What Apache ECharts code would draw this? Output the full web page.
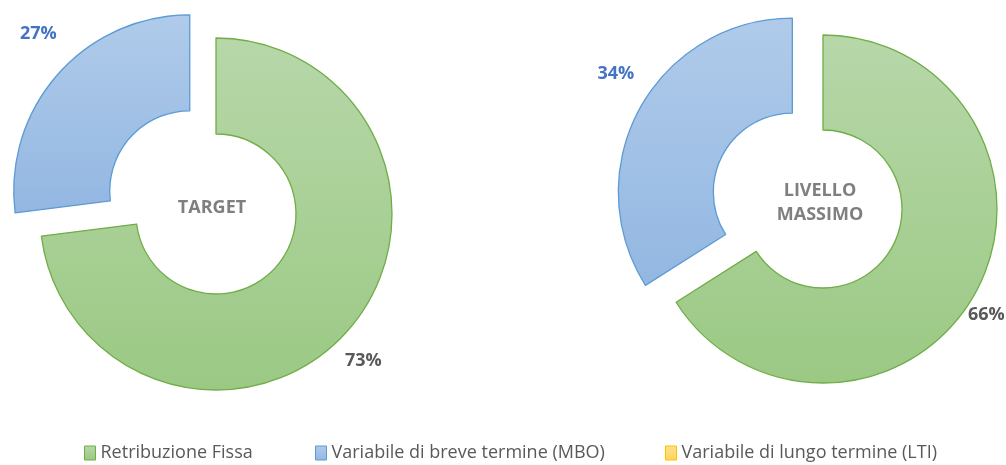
<!DOCTYPE html>
<html>
<head>
<meta charset="utf-8">
<script src="https://cdn.jsdelivr.net/npm/echarts@6/dist/echarts.min.js"></script>
<style>
  html, body { margin: 0; padding: 0; background: #fff; }
  #chart { width: 1006px; height: 465px; }
</style>
</head>
<body>
<div id="chart"></div>
<script>
var categories = ['Retribuzione Fissa', 'Variabile di breve termine (MBO)', 'Variabile di lungo termine (LTI)'];
var targetValues = [73, 27, 0];
var maxValues = [66, 34, 0];
var centerTitles = ['TARGET', 'LIVELLO\nMASSIMO'];

function grad(top, bottom) {
  return new echarts.graphic.LinearGradient(0, 0, 0, 1, [
    { offset: 0, color: top },
    { offset: 1, color: bottom }
  ]);
}

var fills = [grad('#b7d7a9', '#9bc984'), grad('#b0cbea', '#93b7e2'), grad('#ffe28a', '#ffd45c')];
var borders = ['#70ad47', '#5b9bd5', '#ffc000'];
var labelColors = ['#595959', '#4472c4', '#595959'];

// small nudges so labels sit where Excel put them [series][dataIndex]
var labelNudge = [
  [[-17, 23], [13, -33]],
  [[-23, 16], [10, -29]]
];

function buildData(values) {
  return values.map(function (v, i) {
    return {
      value: v,
      name: categories[i],
      selected: i === 1,
      itemStyle: { color: fills[i], borderColor: borders[i], borderWidth: v ? 1.3 : 0 },
      label: { show: v > 0, color: labelColors[i] }
    };
  });
}

function buildSeries(values, center, radius) {
  return {
    type: 'pie',
    center: center,
    radius: radius,
    startAngle: 90,
    selectedMode: 'multiple',
    selectedOffset: 35,
    animation: false,
    label: {
      show: true,
      position: 'outside',
      overflow: 'none',
      formatter: '{c}%',
      fontFamily: 'Open Sans',
      fontWeight: 'bold',
      fontSize: 18
    },
    labelLine: { show: false, length: 12, length2: 0 },
    labelLayout: function (p) {
      var n = (labelNudge[p.seriesIndex] || [])[p.dataIndex];
      return n ? { dx: n[0], dy: n[1] } : {};
    },
    emphasis: { disabled: true },
    data: buildData(values)
  };
}

function buildLegend(name, left) {
  return {
    data: [name],
    left: left,
    bottom: -2,
    icon: 'rect',
    itemWidth: 11,
    itemHeight: 14,
    itemGap: 4,
    selectedMode: false,
    itemStyle: { borderWidth: 1 },
    textStyle: { color: '#595959', fontFamily: 'Open Sans', fontSize: 18 }
  };
}

var chart = echarts.init(document.getElementById('chart'));
var option = {
  backgroundColor: '#fff',
  title: [
    {
      text: centerTitles[0], left: 207, top: 194, textAlign: 'center',
      textStyle: { color: '#7f7f7f', fontFamily: 'Open Sans', fontWeight: 'bold', fontSize: 18 }
    },
    {
      text: centerTitles[1], left: 815, top: 174, textAlign: 'center',
      textStyle: { color: '#7f7f7f', fontFamily: 'Open Sans', fontWeight: 'bold', fontSize: 18, lineHeight: 24 }
    }
  ],
  legend: [
    buildLegend(categories[0], 79),
    buildLegend(categories[1], 310),
    buildLegend(categories[2], 660)
  ],
  series: [
    buildSeries(targetValues, [216, 214], [80, 176]),
    buildSeries(maxValues, [823, 209], [79, 174])
  ]
};
chart.setOption(option);
</script>
</body>
</html>
